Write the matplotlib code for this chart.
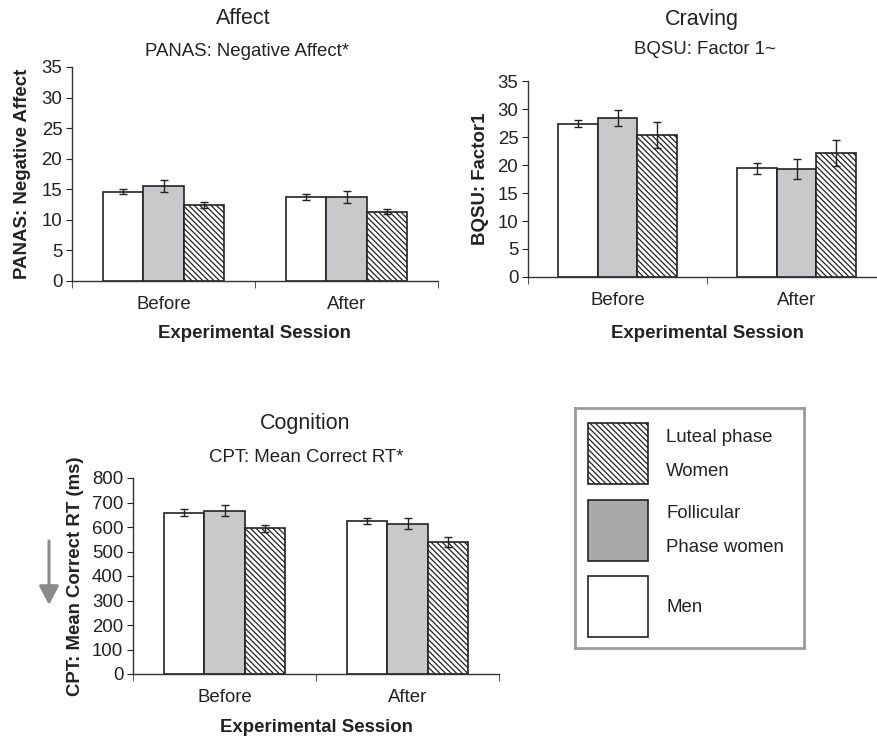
import matplotlib.pyplot as plt
import numpy as np
from matplotlib.patches import Rectangle, FancyArrowPatch

plt.rcParams["font.family"] = ["Liberation Sans", "DejaVu Sans"]
plt.rcParams["hatch.linewidth"] = 0.9

sessions = ["Before", "After"]
groups = ["Men", "Follicular phase women", "Luteal phase women"]

affect_mean = [[14.6, 13.7], [15.5, 13.7], [12.4, 11.3]]
affect_err = [[0.4, 0.5], [1.0, 1.0], [0.5, 0.4]]

craving_mean = [[27.4, 19.4], [28.4, 19.3], [25.3, 22.2]]
craving_err = [[0.7, 1.0], [1.5, 1.8], [2.3, 2.3]]

cpt_mean = [[659, 625], [666, 614], [594, 539]]
cpt_err = [[13, 12], [22, 23], [15, 20]]

legend_labels = ["Luteal phase\n\nWomen", "Follicular\n\nPhase women", "Men"]

FS = 13.4
TITLE_FS = 15.5
HATCH = "\\\\\\\\\\\\"
bar_colors = ["white", "#c9c9cb", "white"]
bar_hatch = [None, None, HATCH]
W, H = 877, 737


def px_axes(fig, left, right, top, bottom):
    return fig.add_axes([left / W, 1 - bottom / H, (right - left) / W, (bottom - top) / H])


def panel(ax, means, errs, ymax, ystep, ylabel):
    x = np.arange(len(sessions))
    width = 0.22
    for i in range(len(groups)):
        ax.bar(x + (i - 1) * width, means[i], width, color=bar_colors[i],
               edgecolor="#222222", linewidth=1.2, hatch=bar_hatch[i], zorder=2)
        ax.errorbar(x + (i - 1) * width, means[i], yerr=errs[i], fmt="none",
                    ecolor="#222222", elinewidth=1.0, capsize=3, capthick=1.0, zorder=3)
    ax.set_xlim(-0.5, 1.5)
    ax.set_ylim(0, ymax)
    ax.set_yticks(np.arange(0, ymax + 1, ystep))
    ax.set_xticks(x)
    ax.set_xticklabels(sessions)
    ax.set_xticks([-0.5, 0.5, 1.5], minor=True)
    ax.tick_params(axis="x", which="major", length=0, labelsize=FS, pad=11, colors="#222222")
    ax.tick_params(axis="x", which="minor", length=5, direction="out", color="#333333")
    ax.tick_params(axis="y", length=4, labelsize=FS, pad=3, colors="#222222")
    for s in ["top", "right"]:
        ax.spines[s].set_visible(False)
    for s in ["left", "bottom"]:
        ax.spines[s].set_color("#333333")
        ax.spines[s].set_linewidth(1.0)
    ax.set_ylabel(ylabel, fontsize=FS, fontweight="bold", color="#222222")


fig = plt.figure(figsize=(W / 100, H / 100), dpi=100)

ax1 = px_axes(fig, 72, 438, 67, 281)
panel(ax1, affect_mean, affect_err, 35, 5, "PANAS: Negative Affect")
ax1.yaxis.set_label_coords(-41 / 366, 0.5)
fig.text(243 / W, 1 - 19 / H, "Affect", ha="center", va="center", fontsize=TITLE_FS, color="#222222")
fig.text(247 / W, 1 - 52 / H, "PANAS: Negative Affect*", ha="center", va="center", fontsize=FS, color="#222222")
fig.text(254 / W, 1 - 333 / H, "Experimental Session", ha="center", va="center",
         fontsize=FS, fontweight="bold", color="#222222")

ax2 = px_axes(fig, 528, 886, 81, 277)
panel(ax2, craving_mean, craving_err, 35, 5, "BQSU: Factor1")
ax2.yaxis.set_label_coords(-39 / 358, 0.5)
fig.text(702 / W, 1 - 19 / H, "Craving", ha="center", va="center", fontsize=TITLE_FS, color="#222222")
fig.text(705 / W, 1 - 50 / H, "BQSU: Factor 1~", ha="center", va="center", fontsize=FS, color="#222222")
fig.text(707 / W, 1 - 333 / H, "Experimental Session", ha="center", va="center",
         fontsize=FS, fontweight="bold", color="#222222")

ax3 = px_axes(fig, 133, 499, 478, 674)
panel(ax3, cpt_mean, cpt_err, 800, 100, "CPT: Mean Correct RT (ms)")
ax3.yaxis.set_label_coords(-49 / 366, 0.5)
fig.text(305 / W, 1 - 423 / H, "Cognition", ha="center", va="center", fontsize=TITLE_FS, color="#222222")
fig.text(306 / W, 1 - 458 / H, "CPT: Mean Correct RT*", ha="center", va="center", fontsize=FS, color="#222222")
fig.text(316 / W, 1 - 727 / H, "Experimental Session", ha="center", va="center",
         fontsize=FS, fontweight="bold", color="#222222")

# downward arrow next to the CPT axis
fig.add_artist(FancyArrowPatch(
    (49 / W, 1 - 541 / H), (49 / W, 1 - 605 / H), transform=fig.transFigure,
    arrowstyle="-|>,head_length=11.5,head_width=6", color="#8a8a8a", linewidth=2.2,
    shrinkA=0, shrinkB=0))

# legend box drawn by hand
lg = px_axes(fig, 575, 804, 408, 648)
lg.set_xlim(575, 804)
lg.set_ylim(648, 408)
lg.set_xticks([])
lg.set_yticks([])
for s in lg.spines.values():
    s.set_color("#9a9a9a")
    s.set_linewidth(2.0)
patch_tops = [423, 500, 576]
patch_fill = ["white", "#a9a9a9", "white"]
patch_hatch = [HATCH, None, None]
for top, fc, h, lab in zip(patch_tops, patch_fill, patch_hatch, legend_labels):
    lg.add_patch(Rectangle((588, top), 60, 61, facecolor=fc, edgecolor="#222222",
                           linewidth=1.2, hatch=h))
    lg.text(666, top + 31, lab, ha="left", va="center", fontsize=FS, color="#222222",
            linespacing=1.0)

fig.savefig("out.png", dpi=100)
